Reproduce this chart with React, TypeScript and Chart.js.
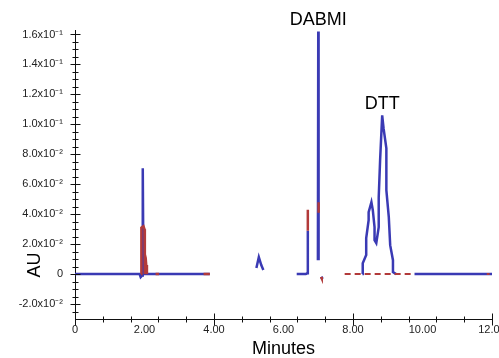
import React, { useEffect, useRef } from "react";
import { Chart, registerables } from "chart.js";

Chart.register(...registerables);

// ---- data ----
const X_TICKS = [0, 2, 4, 6, 8, 10, 12];
const X_TICK_LABELS = ["0", "2.00", "4.00", "6.00", "8.00", "10.00", "12.00"];

const Y_TICKS = [-0.02, 0, 0.02, 0.04, 0.06, 0.08, 0.1, 0.12, 0.14, 0.16];
const Y_TICK_LABELS = [
  "-2.0x10⁻²",
  "0",
  "2.0x10⁻²",
  "4.0x10⁻²",
  "6.0x10⁻²",
  "8.0x10⁻²",
  "1.0x10⁻¹",
  "1.2x10⁻¹",
  "1.4x10⁻¹",
  "1.6x10⁻¹",
];

// blue trace (minutes, AU); null = gap in the recording
const BLUE_X = [
  0, 1.86, 1.89, 1.93, 1.95, 1.97, 2.05, 3.88, 3.89,
  5.22, 5.29, 5.36, 5.42, 5.43,
  6.38, 6.64, 6.68, 6.7, 6.72,
  6.99, 7.0, 7.01, 7.02, 7.07, 7.14, 7.15,
  8.27, 8.28, 8.38, 8.38, 8.45, 8.45, 8.53, 8.57, 8.62, 8.62, 8.67, 8.74, 8.74,
  8.78, 8.84, 8.88, 8.96, 8.96, 9.03, 9.07, 9.15, 9.15, 9.24, 9.25,
  9.77, 12.0,
];
const BLUE_Y = [
  0, 0, -0.002, -0.001, 0.0707, 0, 0, 0, null,
  0.004, 0.0113, 0.006, 0.0027, null,
  0, 0, 0.0005, 0.029, null,
  0.0093, 0.162, 0.0093, null, -0.003, -0.002, null,
  0, 0.0073, 0.0127, 0.024, 0.036, 0.0413, 0.048, 0.0427, 0.0313, 0.0227, 0.0207, 0.0313, 0.0513,
  0.076, 0.106, 0.0973, 0.084, 0.056, 0.038, 0.0193, 0.0093, 0.0013, 0, null,
  0, 0,
];

// red trace, solid parts
const RED_X = [
  1.9, 1.91, 1.97, 2.0, 2.01, 2.05, 2.07, 2.08,
  2.32, 2.42, 2.43,
  3.7, 3.88, 3.89,
  6.7, 6.7, 6.71,
  7.01, 7.01, 7.02,
  7.08, 7.1,
];
const RED_Y = [
  0, 0.031, 0.032, 0.03, 0, 0.006, 0, null,
  0, 0, null,
  0, 0, null,
  0.029, 0.043, null,
  0.041, 0.048, null,
  -0.002, -0.003,
];

// red trace, broken baseline parts
const RED_DASH_X = [7.76, 9.77, 9.78, 11.85, 11.93];
const RED_DASH_Y = [0, 0, null, 0, 0];

const PEAK_NAMES = ["DABMI", "DTT"];
const PEAK_X = [7.0, 8.84];
const PEAK_Y = [0.162, 0.106];

const X_TITLE = "Minutes";
const Y_TITLE = "AU";

const FONT = '"Liberation Sans", Arial, Helvetica, sans-serif';

const toPoints = (xs: number[], ys: (number | null)[]) =>
  xs.map((x, i) => ({ x, y: ys[i] }));

const overlayPlugin = {
  id: "overlay",
  afterDraw(chart: any) {
    const { ctx, scales } = chart;
    const x = scales.x;
    const y = scales.y;
    const ax = Math.round(x.getPixelForValue(0)) + 0.5;
    const ay = Math.round(y.bottom) + 0.5;
    ctx.save();
    ctx.strokeStyle = "#111";
    ctx.lineWidth = 1;
    ctx.beginPath();
    // x-axis ticks
    for (let k = 0; k <= 15; k++) {
      const v = k * 0.8;
      const px = Math.round(x.getPixelForValue(v)) + 0.5;
      const major = k % 5 === 0;
      const h = major ? 6 : 3;
      ctx.moveTo(px, ay - h);
      ctx.lineTo(px, ay + h);
    }
    // y-axis ticks
    for (let k = -5; k <= 32; k++) {
      const v = k * 0.005;
      const py = Math.round(y.getPixelForValue(v)) + 0.5;
      const major = k % 4 === 0;
      const w = major ? 5 : 3;
      ctx.moveTo(ax - w, py);
      ctx.lineTo(ax + w, py);
    }
    ctx.stroke();

    // peak names
    ctx.fillStyle = "#000";
    ctx.font = `18px ${FONT}`;
    ctx.textAlign = "center";
    ctx.textBaseline = "bottom";
    PEAK_NAMES.forEach((name, i) => {
      const px = x.getPixelForValue(PEAK_X[i]);
      const py = y.getPixelForValue(PEAK_Y[i]);
      ctx.fillText(name, px, py - 2);
    });

    // y title
    ctx.translate(35, y.getPixelForValue(0.006));
    ctx.rotate(-Math.PI / 2);
    ctx.textBaseline = "middle";
    ctx.font = `18px ${FONT}`;
    ctx.fillText(Y_TITLE, 0, 0);
    ctx.restore();
  },
};

export default function App() {
  const ref = useRef<HTMLCanvasElement | null>(null);

  useEffect(() => {
    if (!ref.current) return;
    Chart.defaults.font.family = FONT;
    const chart = new Chart(ref.current, {
      type: "scatter",
      data: {
        datasets: [
          {
            label: "red",
            data: toPoints(RED_X, RED_Y),
            showLine: true,
            borderColor: "#b23a3a",
            borderWidth: 2.5,
            pointRadius: 0,
            spanGaps: false,
            tension: 0,
            order: 0,
          },
          {
            label: "red broken",
            data: toPoints(RED_DASH_X, RED_DASH_Y),
            showLine: true,
            borderColor: "#b23a3a",
            borderWidth: 2,
            borderDash: [6, 4],
            pointRadius: 0,
            spanGaps: false,
            tension: 0,
            order: 0,
          },
          {
            label: "blue",
            data: toPoints(BLUE_X, BLUE_Y),
            showLine: true,
            borderColor: "#3a3ab4",
            borderWidth: 2.5,
            pointRadius: 0,
            spanGaps: false,
            tension: 0,
            order: 1,
          },
        ],
      },
      options: {
        responsive: false,
        animation: false,
        devicePixelRatio: 1,
        layout: { padding: { top: 30, right: 7, left: 0, bottom: 0 } },
        plugins: {
          legend: { display: false },
          tooltip: { enabled: false },
        },
        scales: {
          x: {
            type: "linear",
            min: 0,
            max: 12,
            grid: { display: false, drawTicks: false },
            border: { display: true, color: "#111", width: 1 },
            afterBuildTicks: (scale: any) => {
              scale.ticks = X_TICKS.map((v) => ({ value: v }));
            },
            afterFit: (scale: any) => {
              scale.height = 39;
              scale.paddingLeft = 0;
              scale.paddingRight = 0;
            },
            ticks: {
              padding: 4,
              color: "#222",
              font: { size: 11, family: FONT },
              maxRotation: 0,
              autoSkip: false,
              callback: (_v: any, i: number) => X_TICK_LABELS[i],
            },
            title: {
              display: true,
              text: X_TITLE,
              color: "#000",
              font: { size: 18, family: FONT, lineHeight: 1.0 },
              padding: { top: 0, bottom: 0 },
            },
          },
          y: {
            type: "linear",
            min: -0.03,
            max: 0.163,
            grid: { display: false, drawTicks: false },
            border: { display: true, color: "#111", width: 1 },
            afterBuildTicks: (scale: any) => {
              scale.ticks = Y_TICKS.map((v) => ({ value: v }));
            },
            afterFit: (scale: any) => {
              scale.width = 75;
              scale.paddingTop = 0;
              scale.paddingBottom = 0;
            },
            ticks: {
              padding: 12,
              color: "#222",
              font: { size: 11, family: FONT },
              autoSkip: false,
              callback: (_v: any, i: number) => Y_TICK_LABELS[i],
            },
          },
        },
      },
      plugins: [overlayPlugin],
    });
    return () => chart.destroy();
  }, []);

  return (
    <div style={{ position: "absolute", left: 0, top: 0, width: 499, height: 358, background: "#fff" }}>
      <canvas ref={ref} width={499} height={358} />
    </div>
  );
}
